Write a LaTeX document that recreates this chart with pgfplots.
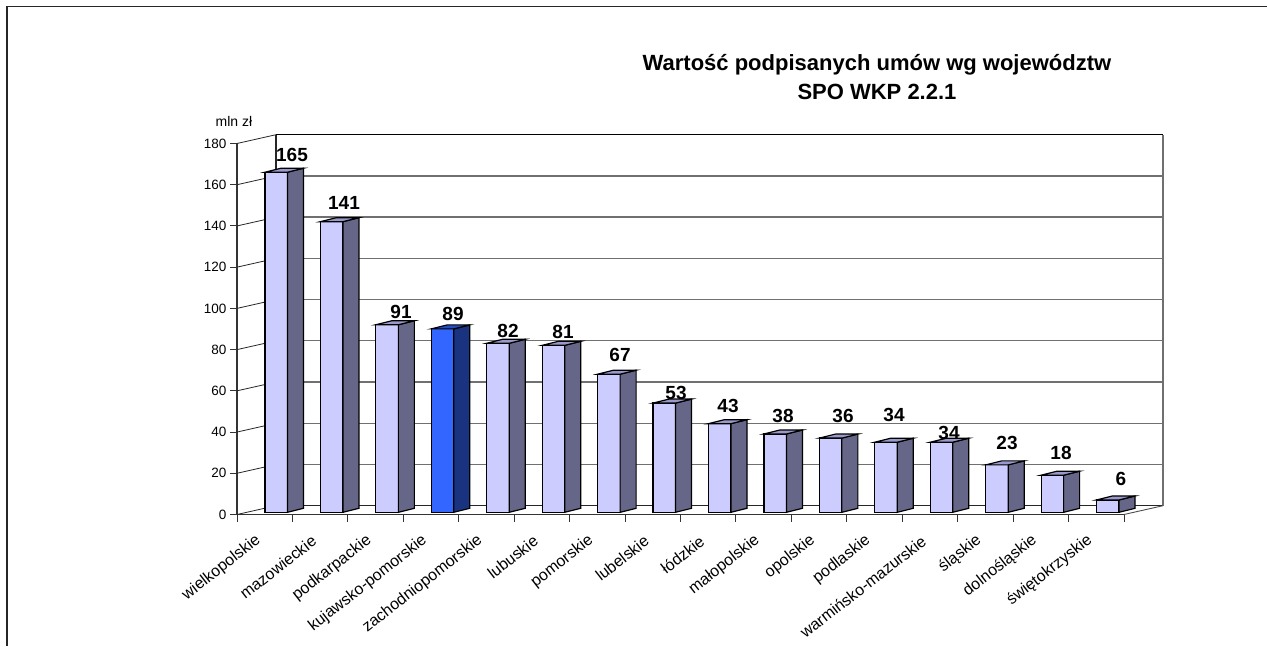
\documentclass[border=0pt]{standalone}
\usepackage{pgfplots}
\pgfplotsset{compat=1.18}
\usepackage{fontspec}
\setmainfont{Liberation Sans}

\definecolor{frontc}{HTML}{CCCCFF}
\definecolor{sidec}{HTML}{666688}
\definecolor{topc}{HTML}{9999CC}
\definecolor{frontb}{HTML}{3366FF}
\definecolor{sideb}{HTML}{1A3380}
\definecolor{topb}{HTML}{264CBF}
\definecolor{gridc}{HTML}{707070}

% one 3d bar: index, value, front, side and top colour
\newcommand{\dbar}[5]{%
  \pgfmathsetmacro\xa{#1+0.505}
  \pgfmathsetmacro\xb{#1+0.911}
  \pgfmathsetmacro\xc{#1+1.1996}
  \pgfmathsetmacro\xd{#1+0.7936}
  \pgfmathsetmacro\ya{1.07}
  \pgfmathsetmacro\yb{#2+1.07}
  \pgfmathsetmacro\yc{1.07+1.94}
  \pgfmathsetmacro\yd{#2+1.07+1.94}
  \addplot[fill=#3,draw=black,line width=1.2pt] coordinates {(\xa,\ya)(\xb,\ya)(\xb,\yb)(\xa,\yb)} --cycle;
  \addplot[fill=#4,draw=black,line width=1.2pt] coordinates {(\xb,\ya)(\xc,\yc)(\xc,\yd)(\xb,\yb)} --cycle;
  \addplot[fill=#5,draw=black,line width=1.2pt] coordinates {(\xa,\yb)(\xb,\yb)(\xc,\yd)(\xd,\yd)} --cycle;
}
% one gridline: value at the front, value on the back wall
\newcommand{\gridl}[2]{%
  \addplot[black!85,line width=0.8pt] coordinates {(0,#1)(0.7035,#2)};
  \addplot[gridc,line width=1.3pt] coordinates {(0.7035,#2)(16.7035,#2)};
}
% value label at picture position, measured from top left
\newcommand{\lab}[3]{\node[font=\fontsize{19}{19}\selectfont\bfseries] at (#1pt,646pt-#2pt) {#3};}

\begin{document}
\begin{tikzpicture}
\useasboundingbox (0,0) rectangle (1267pt,646pt);
\clip (0,0) rectangle (1267pt,646pt);
\draw[black!85,line width=1.5pt] (7pt,0) -- (7pt,639.5pt) -- (1267pt,639.5pt);
\begin{axis}[
    at={(237pt,131.5pt)}, anchor=south west,
    scale only axis, width=887pt, height=371pt,
    xmin=0, xmax=16, ymin=0, ymax=180,
    clip=false,
    axis x line*=bottom, axis y line*=left,
    axis line style={-,black!80,line width=1.2pt},
    tick style={black!80,line width=1pt},
    tick align=outside,
    major tick length=7pt, minor tick length=7pt,
    major x tick style={draw=none},
    xtick={0.5,1.5,2.5,3.5,4.5,5.5,6.5,7.5,8.5,9.5,10.5,11.5,12.5,13.5,14.5,15.5},
    minor xtick={0,...,16},
    ytick={0,20,...,180},
    xticklabels={wielkopolskie,mazowieckie,podkarpackie,kujawsko-pomorskie,zachodniopomorskie,lubuskie,pomorskie,lubelskie,łódzkie,małopolskie,opolskie,podlaskie,warmińsko-mazurskie,śląskie,dolnośląskie,świętokrzyskie},
    xticklabel style={rotate=38,anchor=east,xshift=-12pt,yshift=-10pt,font=\fontsize{16}{16}\selectfont},
    yticklabel style={font=\fontsize{13.5}{13.5}\selectfont},
    /pgf/number format/assume math mode=true,
    title={Wartość podpisanych umów wg województw\\SPO WKP 2.2.1},
    title style={at={(rel axis cs:0.7215,1.164)},anchor=center,align=center,
      font=\fontsize{22}{29}\selectfont\bfseries},
    ylabel={mln zł},
    ylabel style={at={(axis description cs:-0.0034,1.0588)},rotate=-90,anchor=center,
      font=\fontsize{14}{14}\selectfont},
]
\gridl{0}{4.27}
\gridl{20}{24.27}
\gridl{40}{44.27}
\gridl{60}{64.27}
\gridl{80}{84.27}
\gridl{100}{104.27}
\gridl{120}{124.27}
\gridl{140}{144.27}
\gridl{160}{164.27}
\addplot[black!85,line width=0.8pt] coordinates {(0,180)(0.7035,184.27)};
\addplot[black,line width=1.3pt] coordinates {(0.7035,184.27)(16.7035,184.27)};
\addplot[black!85,line width=1.3pt] coordinates {(0.7035,4.27)(16.7035,4.27)};
\addplot[black!85,line width=1.2pt] coordinates {(0.7035,4.27)(0.7035,184.27)};
\addplot[gridc,line width=1.3pt] coordinates {(16.7035,4.27)(16.7035,184.27)};
\addplot[black!70,line width=0.9pt] coordinates {(16,0)(16.7035,4.27)};

\dbar{0}{165}{frontc}{sidec}{topc}
\dbar{1}{141}{frontc}{sidec}{topc}
\dbar{2}{91}{frontc}{sidec}{topc}
\dbar{3}{89}{frontb}{sideb}{topb}
\dbar{4}{82}{frontc}{sidec}{topc}
\dbar{5}{81}{frontc}{sidec}{topc}
\dbar{6}{67}{frontc}{sidec}{topc}
\dbar{7}{53}{frontc}{sidec}{topc}
\dbar{8}{43}{frontc}{sidec}{topc}
\dbar{9}{38}{frontc}{sidec}{topc}
\dbar{10}{36}{frontc}{sidec}{topc}
\dbar{11}{34}{frontc}{sidec}{topc}
\dbar{12}{34}{frontc}{sidec}{topc}
\dbar{13}{23}{frontc}{sidec}{topc}
\dbar{14}{18}{frontc}{sidec}{topc}
\dbar{15}{6}{frontc}{sidec}{topc}
\end{axis}
\lab{292}{155}{165}
\lab{344}{203}{141}
\lab{401}{312}{91}
\lab{453}{314}{89}
\lab{508}{331}{82}
\lab{563}{332}{81}
\lab{620}{355}{67}
\lab{676}{393}{53}
\lab{728}{406}{43}
\lab{783}{416}{38}
\lab{843}{416}{36}
\lab{894}{415}{34}
\lab{949}{433}{34}
\lab{1007}{443}{23}
\lab{1061}{453}{18}
\lab{1121}{479}{6}
\end{tikzpicture}
\end{document}
